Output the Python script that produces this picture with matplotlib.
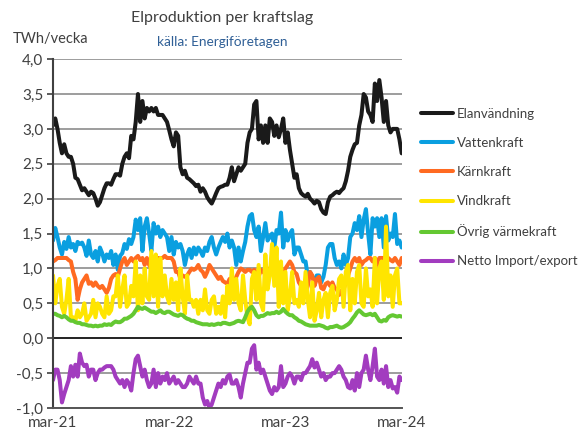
import matplotlib
matplotlib.use("Agg")
import matplotlib.pyplot as plt
import numpy as np

plt.rcParams['font.family'] = ['Lato', 'DejaVu Sans']

# veckovärden mar-21 .. mar-24 (TWh/vecka)
elanvandning = [
    3.05, 3.15, 3.0, 2.8, 2.65, 2.78, 2.65, 2.6, 2.6, 2.5,
    2.3, 2.28, 2.2, 2.12, 2.15, 2.1, 2.05, 2.1, 2.08, 2.0,
    1.9, 1.95, 2.05, 2.15, 2.22, 2.22, 2.2, 2.28, 2.35, 2.35,
    2.33, 2.5, 2.6, 2.65, 2.58, 2.9, 2.85, 3.1, 3.5, 3.1,
    3.4, 3.15, 3.3, 3.25, 3.3, 3.25, 3.3, 3.2, 3.2, 3.2,
    3.15, 3.1, 2.98, 2.85, 2.75, 2.95, 2.9, 2.45, 2.35, 2.4,
    2.3, 2.28, 2.25, 2.22, 2.18, 2.2, 2.1, 2.15, 2.1, 2.02,
    1.97, 1.93, 2.0, 2.08, 2.15, 2.17, 2.18, 2.2, 2.2, 2.3,
    2.45, 2.25, 2.35, 2.45, 2.4, 2.45, 2.5, 2.8, 2.95, 3.0,
    3.35, 3.4, 2.85, 3.05, 2.8, 3.05, 2.8, 3.15, 3.1, 2.9,
    3.05, 2.88, 3.0, 3.15, 2.8, 2.95, 2.7, 2.5, 2.3, 2.35,
    2.15, 2.08, 2.05, 2.03, 2.07, 2.0, 1.97, 1.93, 1.97, 1.95,
    1.85, 1.8, 1.78, 1.95, 2.03, 2.05, 2.08, 2.1, 2.08, 2.12,
    2.15, 2.25, 2.4, 2.6, 2.7, 2.78, 2.8, 3.05, 3.2, 3.5,
    3.45, 3.25, 3.2, 3.1, 3.65, 3.4, 3.7, 3.45, 3.1, 3.4,
    3.05, 2.95, 3.0, 3.0, 3.0, 2.85, 2.65,
]
vattenkraft = [
    1.4, 1.58, 1.45, 1.3, 1.2, 1.38, 1.28, 1.45, 1.3, 1.35,
    1.25, 1.38, 1.35, 1.37, 1.3, 1.18, 1.4, 1.2, 1.15, 1.25,
    1.1, 1.3, 1.22, 1.1, 1.2, 1.15, 1.25, 1.05, 1.2, 0.98,
    1.18, 1.22, 1.35, 1.28, 1.42, 1.35, 1.45, 1.7, 1.55, 1.72,
    1.25, 1.6, 1.72, 1.5, 1.25, 1.65, 1.5, 1.6, 1.45, 1.55,
    1.5, 1.45, 1.25, 1.45, 1.2, 1.38, 1.3, 1.35, 1.25, 1.05,
    1.2, 1.28, 1.15, 1.3, 1.2, 1.3, 1.25, 1.18, 1.3, 1.25,
    1.38, 1.45, 1.3, 1.2, 1.3, 1.38, 1.45, 1.38, 1.5, 1.3,
    1.4, 1.3, 1.05, 1.3, 1.1, 1.25, 1.38, 1.6, 1.75, 1.78,
    1.55, 1.45, 1.6, 1.25, 1.45, 1.65, 1.4, 1.45, 1.5, 1.3,
    1.55, 1.5, 1.8, 1.3, 1.55, 1.4, 1.5, 1.55, 1.2, 1.3,
    1.3, 1.2, 1.1, 1.1, 0.88, 0.95, 0.88, 0.82, 0.9, 0.9,
    0.8, 0.88, 1.05, 1.3, 1.35, 1.35, 1.15, 1.05, 1.1, 1.0,
    1.2, 1.05, 1.15, 1.45, 1.5, 1.65, 1.55, 1.75, 1.45, 1.7,
    1.85, 1.5, 1.2, 1.72, 1.6, 1.72, 1.45, 1.72, 1.3, 1.75,
    1.4, 1.5, 1.45, 1.78, 1.35, 1.4, 1.3,
]
karnkraft = [
    1.1, 1.12, 1.15, 1.15, 1.15, 1.15, 1.15, 1.12, 1.1, 0.95,
    0.85, 0.55, 0.7, 0.8, 0.85, 0.9, 0.78, 0.8, 0.75, 0.8,
    0.75, 0.72, 0.75, 0.7, 0.65, 0.72, 0.85, 0.9, 0.92, 0.88,
    1.0, 1.1, 1.15, 1.05, 1.1, 1.15, 1.1, 1.15, 1.18, 1.12,
    1.15, 1.05, 1.15, 1.05, 1.0, 0.95, 1.05, 1.15, 1.15, 1.15,
    1.18, 1.15, 1.15, 1.15, 1.1, 0.95, 0.95, 0.85, 0.9, 0.88,
    0.9, 0.95, 1.0, 0.98, 1.0, 1.05, 0.98, 0.95, 0.88, 0.95,
    1.05, 1.0, 0.95, 0.9, 0.85, 0.88, 0.82, 0.8, 0.78, 0.85,
    0.82, 0.8, 0.88, 0.95, 1.0, 0.98, 0.95, 0.98, 0.98, 0.95,
    0.98, 0.95, 0.88, 0.98, 0.95, 0.92, 1.0, 0.95, 0.95, 0.95,
    1.0, 0.95, 0.92, 0.95, 1.0, 1.05, 1.1, 1.05, 0.95, 0.92,
    0.8, 0.75, 0.58, 0.65, 0.75, 0.95, 0.9, 0.75, 0.85, 0.88,
    0.72, 0.7, 0.78, 0.8, 0.75, 0.8, 0.72, 0.7, 0.62, 0.68,
    0.7, 0.8, 0.9, 1.0, 1.1, 1.15, 1.1, 1.15, 1.05, 1.1,
    1.12, 1.15, 1.15, 1.1, 1.15, 1.05, 1.15, 1.15, 1.15, 1.1,
    1.15, 1.12, 1.1, 1.15, 1.1, 1.05, 1.15,
]
vindkraft = [
    0.9, 0.5, 0.75, 0.85, 0.45, 0.35, 0.55, 0.85, 0.3, 0.3,
    0.25, 0.4, 0.3, 0.35, 0.5, 0.25, 0.3, 0.35, 0.55, 0.3,
    0.5, 0.45, 0.35, 0.3, 0.6, 0.35, 0.4, 0.6, 0.6, 0.9,
    0.45, 0.7, 0.9, 0.45, 0.5, 0.75, 0.6, 1.1, 0.4, 0.9,
    0.5, 1.0, 0.6, 0.55, 1.25, 0.6, 1.2, 0.45, 1.15, 0.6,
    0.9, 0.6, 0.5, 0.85, 0.55, 0.8, 0.4, 1.0, 0.6, 0.35,
    0.9, 0.55, 0.55, 0.45, 0.55, 0.35, 0.55, 0.4, 0.7, 0.4,
    0.35, 0.55, 0.6, 0.35, 0.45, 0.35, 0.6, 0.3, 0.75, 0.5,
    1.0, 0.55, 0.85, 0.5, 0.4, 0.9, 0.55, 0.3, 0.2, 0.85,
    0.95, 0.55, 1.05, 0.5, 0.4, 1.2, 0.7, 0.9, 1.35, 0.75,
    1.3, 0.45, 1.1, 0.5, 0.95, 0.4, 0.6, 0.95, 0.5, 0.55,
    0.45, 0.8, 0.5, 0.95, 0.55, 0.3, 0.8, 0.25, 0.4, 0.65,
    0.3, 0.55, 0.65, 0.3, 0.65, 0.75, 0.4, 0.55, 0.85, 0.9,
    0.45, 0.95, 1.05, 0.4, 0.85, 0.5, 0.95, 1.05, 0.5, 0.45,
    1.0, 0.6, 0.7, 0.45, 1.15, 0.5, 1.0, 1.1, 0.55, 1.6,
    0.6, 0.9, 0.45, 0.9, 1.0, 0.5, 0.5,
]
ovrig_varme = [
    0.35, 0.35, 0.33, 0.32, 0.3, 0.32, 0.3, 0.27, 0.25, 0.25,
    0.23, 0.22, 0.22, 0.2, 0.2, 0.19, 0.18, 0.18, 0.17, 0.18,
    0.17, 0.18, 0.18, 0.2, 0.19, 0.2, 0.19, 0.22, 0.24, 0.23,
    0.23, 0.25, 0.28, 0.28, 0.3, 0.32, 0.35, 0.4, 0.45, 0.43,
    0.42, 0.44, 0.42, 0.4, 0.38, 0.38, 0.36, 0.38, 0.4, 0.37,
    0.36, 0.38, 0.38, 0.36, 0.34, 0.33, 0.32, 0.34, 0.33, 0.3,
    0.28, 0.27, 0.25, 0.25, 0.23, 0.22, 0.21, 0.2, 0.2, 0.2,
    0.19, 0.2, 0.19, 0.2, 0.21, 0.2, 0.22, 0.22, 0.21, 0.2,
    0.21, 0.22, 0.24, 0.25, 0.24, 0.23, 0.3, 0.38, 0.43, 0.45,
    0.4, 0.33, 0.3, 0.32, 0.32, 0.34, 0.36, 0.35, 0.36, 0.36,
    0.38, 0.36, 0.38, 0.42, 0.38, 0.35, 0.33, 0.33, 0.3, 0.28,
    0.25, 0.24, 0.22, 0.2, 0.19, 0.18, 0.18, 0.18, 0.18, 0.19,
    0.18, 0.17, 0.15, 0.14, 0.16, 0.16, 0.17, 0.18, 0.16, 0.15,
    0.16, 0.18, 0.2, 0.23, 0.28, 0.32, 0.37, 0.4, 0.37, 0.34,
    0.33, 0.34, 0.35, 0.33, 0.35, 0.3, 0.25, 0.24, 0.26, 0.25,
    0.3, 0.32, 0.33, 0.32, 0.31, 0.32, 0.31,
]
netto_import = [
    -0.6, -0.45, -0.45, -0.6, -0.92, -0.8, -0.7, -0.6, -0.4, -0.55,
    -0.38, -0.55, -0.22, -0.35, -0.4, -0.38, -0.55, -0.45, -0.45, -0.6,
    -0.5, -0.45, -0.45, -0.42, -0.4, -0.4, -0.4, -0.45, -0.55, -0.6,
    -0.65, -0.6, -0.7, -0.6, -0.65, -0.75, -0.5, -0.3, -0.25, -0.4,
    -0.55, -0.45, -0.6, -0.7, -0.65, -0.45, -0.7, -0.5, -0.65, -0.55,
    -0.6, -0.5, -0.65, -0.6, -0.55, -0.65, -0.6, -0.65, -0.7, -0.7,
    -0.65, -0.55, -0.6, -0.65, -0.55, -0.65, -0.65, -0.85, -0.95, -0.9,
    -1.0, -0.95, -0.85, -0.75, -0.65, -0.7, -0.6, -0.65, -0.55, -0.52,
    -0.65, -0.65, -0.6, -0.7, -0.85, -0.65, -0.5, -0.35, -0.35, -0.15,
    -0.1, -0.45, -0.35, -0.5, -0.45, -0.55, -0.65, -0.75, -0.8, -0.7,
    -0.75, -0.7, -0.4, -0.7, -0.65, -0.55, -0.5, -0.55, -0.65, -0.55,
    -0.55, -0.6, -0.5, -0.5, -0.45, -0.4, -0.3, -0.42, -0.35, -0.45,
    -0.55, -0.5, -0.6, -0.55, -0.55, -0.5, -0.5, -0.45, -0.4, -0.45,
    -0.55, -0.6, -0.7, -0.72, -0.6, -0.75, -0.5, -0.7, -0.5, -0.45,
    -0.25, -0.45, -0.6, -0.4, -0.15, -0.55, -0.6, -0.45, -0.65, -0.4,
    -0.7, -0.6, -0.72, -0.7, -0.78, -0.55, -0.6,
]

series_labels = ["Elanvändning", "Vattenkraft", "Kärnkraft", "Vindkraft",
                 "Övrig värmekraft", "Netto Import/export"]
series_colors = ["#1a1a1a", "#0a9fe0", "#ff6a21", "#ffe500", "#64c832", "#a23cbf"]

x_tick_weeks = [0, 52, 104, 156]
x_tick_labels = ["mar-21", "mar-22", "mar-23", "mar-24"]
y_ticks = np.arange(-1.0, 4.01, 0.5)

fig = plt.figure(figsize=(5.84, 4.38), dpi=100)
ax = fig.add_axes([0.0908, 0.0685, 0.597, 0.7965])

all_series = [elanvandning, vattenkraft, karnkraft, vindkraft, ovrig_varme, netto_import]
for vals, lab, col in zip(all_series, series_labels, series_colors):
    weeks = np.arange(len(vals))
    ax.plot(weeks, vals, color=col, lw=2.9, label=lab, solid_capstyle="round",
            solid_joinstyle="round")

ax.set_xlim(0, 156)
ax.set_ylim(-1.0, 4.0)

for yv in y_ticks:
    if yv == 0:
        ax.axhline(yv, color="#222222", lw=1.4, zorder=0.5)
    else:
        ax.axhline(yv, color="#8c8c8c", lw=1.2, zorder=0.5)

ax.set_yticks(y_ticks)
ax.set_yticklabels([f"{v:.1f}".replace(".", ",") for v in y_ticks], fontsize=11, color="#404040")
ax.set_xticks(x_tick_weeks)
ax.set_xticklabels(x_tick_labels, fontsize=11, color="#404040")
ax.tick_params(axis="y", length=4, width=1.2, color="#404040", pad=3)
ax.tick_params(axis="x", length=0, pad=6)

for side in ["top", "right"]:
    ax.spines[side].set_visible(False)
ax.spines["left"].set_color("#404040")
ax.spines["left"].set_linewidth(1.5)
ax.spines["bottom"].set_color("#555555")
ax.spines["bottom"].set_linewidth(1.4)

fig.text(0.38, 0.958, "Elproduktion per kraftslag", ha="center", va="center",
         fontsize=11.5, color="#404040")
fig.text(0.38, 0.904, "källa: Energiföretagen", ha="center", va="center",
         fontsize=9.8, color="#2f5f96")
fig.text(0.022, 0.910, "TWh/vecka", ha="left", va="center", fontsize=10.5, color="#404040")

ax.legend(loc="upper left", bbox_to_anchor=(0.721, 0.754), bbox_transform=fig.transFigure,
          frameon=False, fontsize=9.5, handlelength=2.4, handletextpad=0.3,
          labelspacing=1.3, borderpad=0, borderaxespad=0, labelcolor="#404040")

fig.savefig("out.png", dpi=100)
